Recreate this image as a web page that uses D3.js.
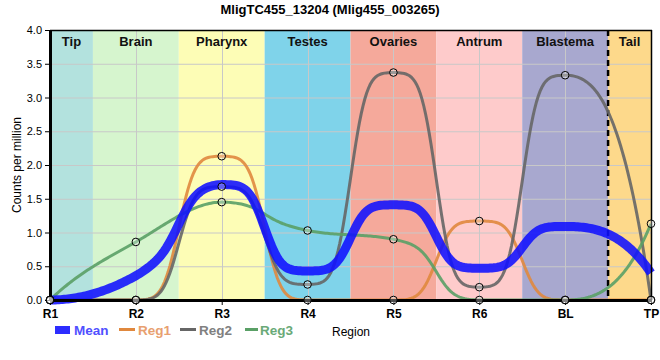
<!DOCTYPE html>
<html><head><meta charset="utf-8">
<script src="https://cdn.jsdelivr.net/npm/d3@7"></script>
<style>body{margin:0;background:#fff}svg{display:block;font-family:"Liberation Sans",Arial,sans-serif}</style>
</head><body><svg id="c" width="660" height="360"></svg>
<script>
const title = "MligTC455_13204 (Mlig455_003265)";
const categories = ["R1","R2","R3","R4","R5","R6","BL","TP"];
const reg1 = [0, 0, 2.13, 0, 0, 1.17, 0, 0];
const reg2 = [0, 0, 1.68, 0.23, 3.37, 0.19, 3.33, 0];
const reg3 = [0, 0.86, 1.45, 1.03, 0.90, 0, 0, 1.13];
const meanVals = [0, 0.36, 1.71, 0.43, 1.41, 0.47, 1.09, 0.40];
const regions = ["Tip","Brain","Pharynx","Testes","Ovaries","Antrum","Blastema","Tail"];
const regionBounds = [0, 0.5, 1.5, 2.5, 3.5, 4.5, 5.5, 6.5, 7];
const regionColors = ["#b3e2de","#d6f5ce","#fdfdb6","#7fd3ea","#f5a99b","#fecbcb","#a8a8cf","#fdd98b"];
const yTicks = [0, 0.5, 1, 1.5, 2, 2.5, 3, 3.5, 4];

// smooth monotone curve with sharper transitions between extrema
function erf(v){const s=Math.sign(v);v=Math.abs(v);const t=1/(1+0.3275911*v);
  const r=1-(((((1.061405429*t-1.453152027)*t)+1.421413741)*t-0.284496736)*t+0.254829592)*t*Math.exp(-v*v);return s*r;}
const SIG = 0.145;
const e0 = erf(-0.5/(SIG*Math.SQRT2)), e1 = erf(0.5/(SIG*Math.SQRT2));
const sharpS = t => (erf((t-0.5)/(SIG*Math.SQRT2)) - e0) / (e1 - e0);
const smooth = t => t*t*(3-2*t);
function SharpMono(ctx){this._c = ctx;}
SharpMono.prototype = {
  areaStart(){this._line = 0;}, areaEnd(){this._line = NaN;},
  lineStart(){this._p = [];},
  point(x, y){this._p.push([+x, +y]);},
  lineEnd(){
    const p = this._p, n = p.length, c = this._c;
    if (!n) return;
    const m = new Array(n).fill(0);
    const sl = i => (p[i+1][1]-p[i][1])/(p[i+1][0]-p[i][0]);
    for (let i = 1; i < n-1; i++) {
      const h0 = p[i][0]-p[i-1][0], h1 = p[i+1][0]-p[i][0];
      const s0 = sl(i-1), s1 = sl(i), pp = (s0*h1 + s1*h0)/(h0+h1);
      m[i] = (Math.sign(s0)+Math.sign(s1)) * Math.min(Math.abs(s0), Math.abs(s1), 0.5*Math.abs(pp)) || 0;
    }
    const endT = (a, nb) => { const v = 2.7*a - 1.5*nb; return Math.sign(v) === Math.sign(a) ? v : 0; };
    if (n > 2) {
      m[0] = endT(sl(0), m[1]);
      m[n-1] = endT(sl(n-2), m[n-2]);
    } else if (n === 2) { m[0] = m[1] = sl(0); }
    c.moveTo(p[0][0], p[0][1]);
    for (let i = 0; i < n-1; i++) {
      const [x0, y0] = p[i], [x1, y1] = p[i+1], h = x1-x0, a = (y1-y0)/h;
      const r = Math.abs(a) > 1e-9 ? Math.max(Math.abs(m[i]), Math.abs(m[i+1]))/Math.abs(a) : 1;
      const w = Math.max(0, Math.min(1, 1 - r));
      const N = 48;
      for (let k = 1; k <= N; k++) {
        const t = k/N;
        const S = (1-w)*smooth(t) + w*sharpS(t);
        const h10 = t*(1-t)*(1-t), h11 = t*t*(t-1);
        c.lineTo(x0 + h*t, y0*(1-S) + y1*S + h*m[i]*h10 + h*m[i+1]*h11);
      }
    }
  }
};
const curveSharp = ctx => new SharpMono(ctx);

const svg = d3.select("#c");
const L = 50, R = 651, T = 30, B = 300;
const x = d3.scaleLinear().domain([0, categories.length - 1]).range([L, R]);
const y = d3.scaleLinear().domain([0, 4]).range([B, T]);

// backgrounds
svg.append("g").selectAll("rect").data(regions).join("rect")
  .attr("x", (d, i) => x(regionBounds[i]))
  .attr("width", (d, i) => x(regionBounds[i + 1]) - x(regionBounds[i]))
  .attr("y", T).attr("height", B - T)
  .attr("fill", (d, i) => regionColors[i]);

// grid
const g = svg.append("g").attr("stroke", "#c8c8c8").attr("stroke-width", 1);
g.selectAll(".h").data(yTicks).join("line")
  .attr("x1", L).attr("x2", R).attr("y1", d => y(d) + 0.5).attr("y2", d => y(d) + 0.5);
g.selectAll(".v").data(categories).join("line")
  .attr("y1", T).attr("y2", B).attr("x1", (d, i) => Math.round(x(i)) + 0.5).attr("x2", (d, i) => Math.round(x(i)) + 0.5);

// region labels
svg.append("g").selectAll("text").data(regions).join("text")
  .attr("x", (d, i) => (x(regionBounds[i]) + x(regionBounds[i + 1])) / 2)
  .attr("y", 46).attr("text-anchor", "middle")
  .attr("font-size", 13).attr("font-weight", "bold").attr("fill", "#111")
  .text(d => d);

// dashed line
svg.append("line").attr("x1", x(6.5)).attr("x2", x(6.5)).attr("y1", T).attr("y2", B)
  .attr("stroke", "#000").attr("stroke-width", 2.5).attr("stroke-dasharray", "6,4");

// lines
const line = d3.line().x((d, i) => x(i)).y(d => y(d)).curve(curveSharp);
const series = [
  {name: "Reg1", vals: reg1, color: "#e0883e", text: "#e8a070"},
  {name: "Reg2", vals: reg2, color: "#666666", text: "#808080"},
  {name: "Reg3", vals: reg3, color: "#5aa066", text: "#6aaa78"}
];
const plot = svg.append("g");
series.forEach(s => {
  plot.append("path").attr("d", line(s.vals)).attr("fill", "none")
    .attr("stroke", s.color).attr("stroke-width", 3).attr("opacity", 0.9);
});
plot.append("path").attr("d", line(meanVals)).attr("fill", "none")
  .attr("stroke", "#1010ff").attr("stroke-width", 9).attr("opacity", 0.88);

// axes
const xAxis = svg.append("g").attr("transform", `translate(0,${B})`)
  .call(d3.axisBottom(x).tickValues(d3.range(categories.length)).tickFormat(i => categories[i]).tickSize(5).tickSizeOuter(0));
xAxis.select(".domain").attr("stroke-width", 3);
xAxis.selectAll("text").attr("font-size", 12).attr("font-weight", "bold").attr("fill", "#000").attr("dy", "0.85em");
const yAxis = svg.append("g").attr("transform", `translate(${L},0)`)
  .call(d3.axisLeft(y).tickValues(yTicks).tickFormat(d3.format(".1f")).tickSize(5).tickSizeOuter(0));
yAxis.select(".domain").attr("stroke-width", 3);
yAxis.selectAll("text").attr("font-size", 11).attr("fill", "#000");
xAxis.attr("font-family", null); yAxis.attr("font-family", null);
svg.append("line").attr("x1", L).attr("x2", R + 1).attr("y1", T + 0.5).attr("y2", T + 0.5).attr("stroke", "#000").attr("stroke-width", 1.5);
svg.append("line").attr("x1", R + 0.5).attr("x2", R + 0.5).attr("y1", T).attr("y2", B).attr("stroke", "#000").attr("stroke-width", 1.5);

// markers
series.forEach(s => {
  svg.append("g").selectAll("circle").data(s.vals).join("circle")
    .attr("cx", (d, i) => x(i)).attr("cy", d => y(d)).attr("r", 3.8)
    .attr("fill", "#fff").attr("fill-opacity", 0.3).attr("stroke", "#000").attr("stroke-width", 1);
});

// titles
svg.append("text").attr("x", 330).attr("y", 14).attr("text-anchor", "middle")
  .attr("font-size", 13).attr("font-weight", "bold").text(title);
svg.append("text").attr("transform", `translate(21,${(T + B) / 2}) rotate(-90)`)
  .attr("text-anchor", "middle").attr("font-size", 12).text("Counts per million");
svg.append("text").attr("x", 332).attr("y", 336).attr("font-size", 12).text("Region");

// legend
const lg = svg.append("g").attr("font-size", 13.5).attr("font-weight", "bold");
lg.append("rect").attr("x", 55).attr("y", 326).attr("width", 15).attr("height", 8).attr("fill", "#1010ff").attr("opacity", 0.88);
lg.append("text").attr("x", 74).attr("y", 335).attr("fill", "#5050ff").text("Mean");
const lineX = [[119, 135], [180, 196], [245, 258]];
const textX = [138, 199, 260];
series.forEach((s, i) => {
  lg.append("line").attr("x1", lineX[i][0]).attr("x2", lineX[i][1]).attr("y1", 329.5).attr("y2", 329.5)
    .attr("stroke", s.color).attr("stroke-width", 3);
  lg.append("text").attr("x", textX[i]).attr("y", 335).attr("fill", s.text).text(s.name);
});
</script></body></html>
